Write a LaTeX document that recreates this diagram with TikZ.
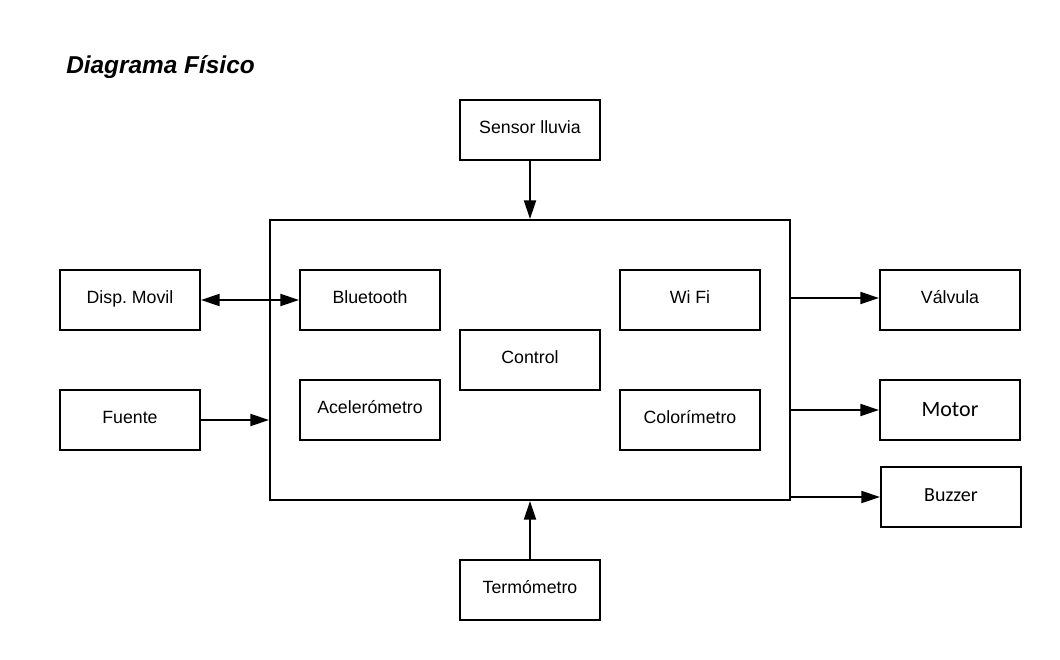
\documentclass[tikz,border=0pt]{standalone}
\usepackage{fontspec}
\setmainfont{Liberation Sans}
\newfontfamily\calib{Carlito}
\usetikzlibrary{arrows.meta}
\begin{document}
\begin{tikzpicture}[x=0.75pt,y=-0.75pt,
  blk/.style={draw,line width=1.5pt,minimum width=105pt,minimum height=45pt,inner sep=0pt,text height=8.5pt,text depth=3pt,font=\fontsize{13.3}{16}\selectfont},
  con/.style={line width=1.5pt,-{Triangle[length=14pt,width=9pt]}},
  bicon/.style={line width=1.5pt,{Triangle[length=14pt,width=9pt]}-{Triangle[length=14pt,width=9pt]}}]
\useasboundingbox (0,0) rectangle (1060,660);
\node[anchor=base west,inner sep=0pt,font=\bfseries\itshape\fontsize{18.3}{22}\selectfont] (title) at (66,74) {Diagrama Físico};
\node[draw,line width=1.5pt,minimum width=390pt,minimum height=210pt,inner sep=0pt] (main) at (530,360) {};
\node[blk] (sensor) at (530,130) {Sensor lluvia};
\node[blk] (disp) at (130,300) {Disp.\ Movil};
\node[blk] (fuente) at (130,420) {Fuente};
\node[blk] (bt) at (370,300) {Bluetooth};
\node[blk] (acel) at (370,410) {Acelerómetro};
\node[blk] (ctrl) at (530,360) {Control};
\node[blk] (wifi) at (690,300) {Wi Fi};
\node[blk] (color) at (690,420) {Colorímetro};
\node[blk] (valv) at (950,300) {Válvula};
\node[blk,text height=12pt,font=\calib\fontsize{16.5}{20}\selectfont] (motor) at (950,410) {Motor};
\node[blk,text height=10pt,font=\calib\fontsize{15}{18}\selectfont] (buzz) at (951,497) {Buzzer};
\node[blk] (termo) at (530,590) {Termómetro};
\draw[con] (sensor.south) -- (main.north);
\draw[bicon] (disp.east) -- (bt.west);
\draw[con] (fuente.east) -- (main.west |- fuente.east);
\draw[con] (main.east |- 0,298) -- (valv.west |- 0,298);
\draw[con] (main.east |- motor.west) -- (motor.west);
\draw[con] (main.east |- buzz.west) -- (buzz.west);
\draw[con] (termo.north) -- (main.south);
\end{tikzpicture}
\end{document}
